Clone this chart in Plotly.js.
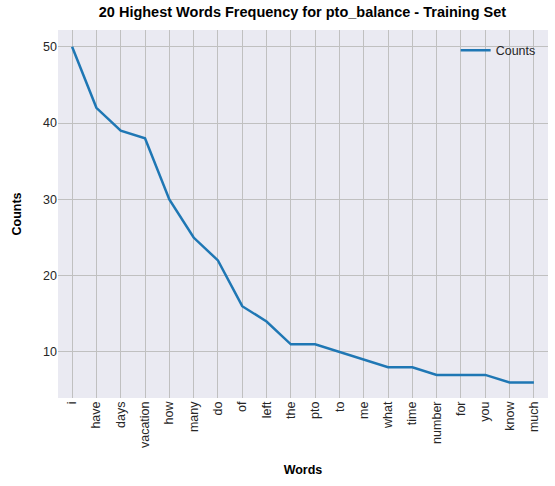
<!DOCTYPE html>
<html><head><script src="https://cdn.plot.ly/plotly-3.0.1.min.js"></script></head>
<body style="margin:0"><div id="chart" style="width:555px;height:486px"></div>
<script>
var words = ['i','have','days','vacation','how','many','do','of','left','the','pto','to','me','what','time','number','for','you','know','much'];
var counts = [50,42,39,38,30,25,22,16,14,11,11,10,9,8,8,7,7,7,6,6];

var data = [{
  type: 'scatter', mode: 'lines', x: words, y: counts, name: 'Counts',
  line: {color: '#1f77b4', width: 2.5}
}];

var layout = {
  width: 555, height: 486,
  font: {family: 'Liberation Sans, Arial, sans-serif', size: 12, color: '#262626'},
  paper_bgcolor: 'white', plot_bgcolor: '#EAEAF2',
  margin: {l: 58, r: 7, t: 30, b: 88},
  title: {text: '<b>20 Highest Words Frequency for pto_balance - Training Set</b>', x: 0.545, y: 0.985, yanchor: 'top', font: {size: 14.5, color: 'black'}},
  xaxis: {title: {text: '<b>Words</b>', font: {size: 12.5, color: 'black'}, standoff: 18},
    tickangle: -90, range: [-0.58, 19.58], showgrid: true, gridcolor: '#C0C0C0', zeroline: false,
    ticks: '', ticklen: 2, tickfont: {size: 12.5}},
  yaxis: {title: {text: '<b>Counts</b>', font: {size: 12.5, color: 'black'}, standoff: 18},
    range: [3.97, 52.2], tickvals: [10,20,30,40,50], showgrid: true, gridcolor: '#C0C0C0', zeroline: false,
    ticks: '', tickfont: {size: 12.5}},
  showlegend: true,
  legend: {x: 0.985, y: 0.985, xanchor: 'right', yanchor: 'top', bgcolor: 'rgba(0,0,0,0)', font: {size: 12.5}}
};
Plotly.newPlot('chart', data, layout, {displayModeBar: false});
</script></body></html>
